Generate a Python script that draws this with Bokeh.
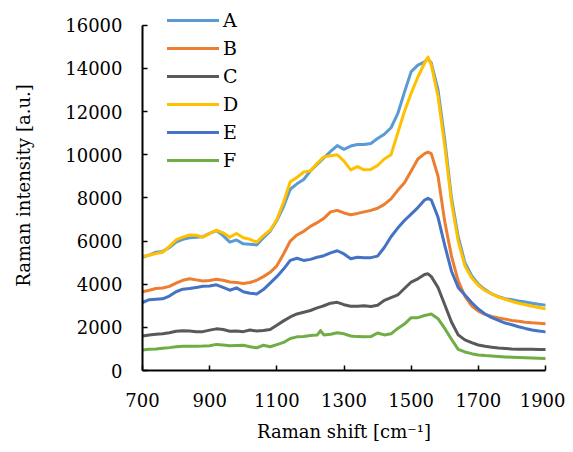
from bokeh.plotting import figure
from bokeh.models import Range1d, Legend, LegendItem, FixedTicker
from bokeh.embed import file_html
from bokeh.resources import INLINE

# Raman shift [cm^-1]
shift = [700, 720, 740, 760, 780, 800, 820, 840, 860, 880,
         900, 920, 940, 960, 980, 1000, 1020, 1040, 1060, 1080,
         1100, 1120, 1140, 1160, 1180, 1200, 1220, 1230, 1240, 1260,
         1280, 1300, 1320, 1340, 1360, 1380, 1400, 1420, 1440, 1460,
         1480, 1500, 1520, 1540, 1550, 1560, 1580, 1600, 1620, 1640,
         1660, 1680, 1700, 1720, 1740, 1760, 1780, 1800, 1820, 1840,
         1860, 1880, 1900]

series_A = [5250, 5350, 5480, 5520, 5700, 5950, 6080, 6150, 6180, 6200,
            6350, 6480, 6250, 5950, 6050, 5870, 5850, 5820, 6150, 6450,
            6950, 7600, 8400, 8650, 8850, 9250, 9550, 9700, 9850, 10150,
            10420, 10250, 10400, 10470, 10470, 10520, 10750, 10950, 11250, 11900,
            12900, 13850, 14150, 14300, 14450, 14250, 13000, 10700, 8000, 6200,
            5000, 4400, 4000, 3750, 3550, 3420, 3330, 3280, 3220, 3170,
            3120, 3070, 3030]

series_B = [3650, 3720, 3800, 3820, 3900, 4050, 4180, 4250, 4200, 4150,
            4170, 4230, 4180, 4100, 4080, 4030, 4080, 4180, 4350, 4550,
            4850, 5400, 6000, 6280, 6450, 6680, 6850, 6950, 7050, 7350,
            7420, 7300, 7220, 7280, 7350, 7420, 7520, 7700, 7950, 8350,
            8700, 9250, 9800, 10050, 10120, 10050, 9000, 6900, 5300, 4150,
            3450, 3000, 2750, 2600, 2500, 2430, 2380, 2320, 2280, 2240,
            2210, 2190, 2170]

series_C = [1600, 1650, 1680, 1700, 1750, 1820, 1840, 1830, 1800, 1800,
            1870, 1930, 1900, 1820, 1830, 1800, 1880, 1830, 1850, 1900,
            2100, 2300, 2480, 2620, 2700, 2780, 2900, 2950, 3000, 3120,
            3160, 3050, 2980, 2980, 3000, 2970, 3020, 3250, 3380, 3500,
            3800, 4100, 4250, 4450, 4480, 4350, 3850, 3050, 2250, 1650,
            1420, 1290, 1180, 1120, 1080, 1040, 1020, 1000, 990, 985,
            980, 975, 970]

series_D = [5280, 5340, 5420, 5480, 5750, 6050, 6180, 6280, 6270, 6180,
            6350, 6500, 6380, 6180, 6350, 6150, 6080, 5950, 6250, 6500,
            7000, 7800, 8750, 8950, 9200, 9250, 9600, 9750, 9900, 9950,
            10000, 9700, 9300, 9450, 9300, 9320, 9500, 9800, 10000, 11000,
            12000, 12850, 13600, 14250, 14520, 14150, 12700, 10400, 7800, 6000,
            4850, 4300, 3950, 3700, 3550, 3400, 3300, 3200, 3120, 3050,
            2980, 2920, 2860]

series_E = [3150, 3280, 3300, 3320, 3450, 3650, 3770, 3800, 3850, 3900,
            3920, 3970, 3850, 3720, 3830, 3650, 3580, 3550, 3750, 4050,
            4350, 4700, 5100, 5200, 5100, 5150, 5250, 5280, 5320, 5450,
            5550, 5400, 5180, 5250, 5220, 5230, 5300, 5700, 6200, 6600,
            6950, 7250, 7550, 7900, 7980, 7900, 7100, 5800, 4600, 3850,
            3500, 3150, 2850, 2620, 2450, 2320, 2200, 2120, 2030, 1950,
            1880, 1830, 1790]

series_F = [950, 980, 1000, 1030, 1060, 1100, 1120, 1120, 1120, 1130,
            1150, 1210, 1180, 1150, 1160, 1170, 1100, 1050, 1170, 1100,
            1200, 1300, 1480, 1560, 1580, 1620, 1640, 1850, 1650, 1680,
            1750, 1700, 1600, 1570, 1560, 1570, 1740, 1650, 1700, 1950,
            2150, 2450, 2450, 2550, 2580, 2620, 2400, 1950, 1450, 980,
            860, 780, 720, 690, 670, 650, 630, 615, 600, 590,
            580, 570, 560]

labels = ["A", "B", "C", "D", "E", "F"]
colors = ["#5B9BD5", "#ED7D31", "#595959", "#FFC000", "#4472C4", "#70AD47"]
x_ticks = [700, 900, 1100, 1300, 1500, 1700, 1900]
y_ticks = [0, 2000, 4000, 6000, 8000, 10000, 12000, 14000, 16000]

FONT = "DejaVu Serif"

# frame reaches the top of the canvas so the legend (which sits partly above
# the 16000 line) is not clipped; the axis itself stops at 16000
p = figure(width=565, height=444, output_backend="svg", toolbar_location=None,
           x_range=Range1d(700, 1900), y_range=Range1d(0, 17146),
           min_border_left=142, min_border_right=20, min_border_top=0,
           min_border_bottom=70)

p.xgrid.visible = False
p.ygrid.visible = False
p.outline_line_color = None
p.background_fill_color = "white"
p.border_fill_color = "white"

all_series = [series_A, series_B, series_C, series_D, series_E, series_F]
items = []
for lab, col, ys in zip(labels, colors, all_series):
    r = p.line(shift, ys, line_color=col, line_width=3, line_join="round",
               line_cap="round")
    items.append(LegendItem(label=lab, renderers=[r]))

for ax, ticks in ((p.xaxis[0], x_ticks), (p.yaxis[0], y_ticks)):
    ax.ticker = FixedTicker(ticks=ticks)
    ax.axis_line_color = "black"
    ax.axis_line_width = 2
    ax.major_tick_line_color = "black"
    ax.major_tick_line_width = 1.5
    ax.major_tick_in = 5
    ax.major_tick_out = 0
    ax.minor_tick_line_color = None
    ax.major_label_text_font = FONT
    ax.major_label_text_font_size = "18px"
    ax.major_label_text_color = "black"
    ax.axis_label_text_font = FONT
    ax.axis_label_text_font_size = "18px"
    ax.axis_label_text_font_style = "normal"
    ax.axis_label_text_color = "black"

p.yaxis[0].bounds = (0, 16000)
p.xaxis.axis_label = "Raman shift [cm\u207b\u00b9]"
p.yaxis.axis_label = "Raman intensity [a.u.]"
p.xaxis.major_label_standoff = 22
p.yaxis.major_label_standoff = 20
p.xaxis.axis_label_standoff = 11
p.yaxis.axis_label_standoff = 28

legend = Legend(items=items, location=(25, 199),
                label_text_font=FONT, label_text_font_size="19px",
                label_text_color="black",
                glyph_width=52, glyph_height=20, label_height=20,
                spacing=6, padding=0, margin=0, label_standoff=4,
                border_line_color=None, background_fill_alpha=0)
p.add_layout(legend)

open("out.html", "w").write(file_html(p, INLINE))
